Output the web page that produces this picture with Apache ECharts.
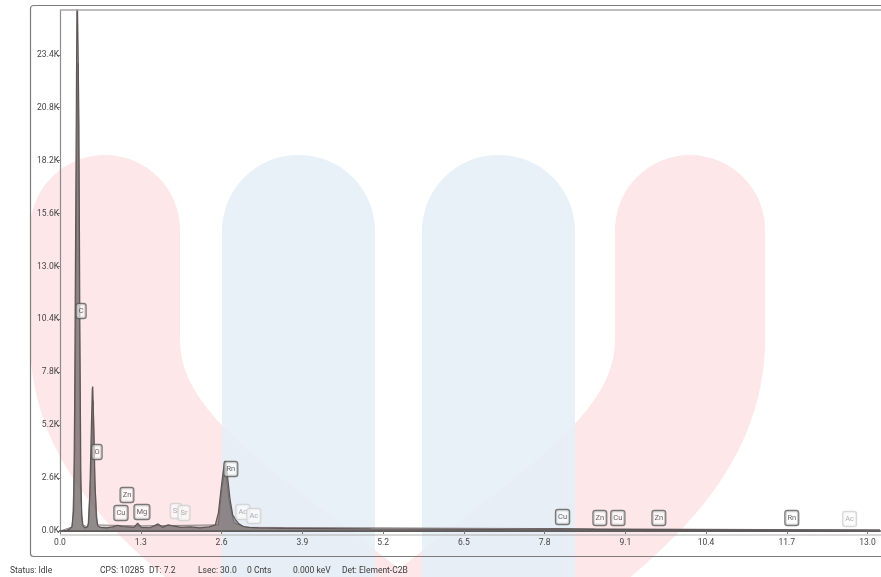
<!DOCTYPE html>
<html>
<head>
<meta charset="utf-8">
<title>EDS Spectrum</title>
<script src="https://cdn.jsdelivr.net/npm/echarts@6/dist/echarts.min.js"></script>
<style>
  html, body { margin: 0; padding: 0; background: #ffffff; }
  #chart { width: 881px; height: 577px; }
</style>
</head>
<body>
<div id="chart"></div>
<script>
// Energy axis (keV) and counts of the main acquisition
const energyMain = [0.0, 0.10, 0.15, 0.19, 0.22, 0.235, 0.25, 0.265, 0.275, 0.29, 0.305, 0.32, 0.335, 0.35, 0.37, 0.40, 0.44, 0.46, 0.48, 0.50, 0.52, 0.527, 0.545, 0.565, 0.585, 0.61, 0.65, 0.75, 0.85, 0.93, 1.00, 1.02, 1.10, 1.19, 1.25, 1.31, 1.45, 1.58, 1.65, 1.74, 1.82, 1.95, 2.10, 2.25, 2.40, 2.50, 2.55, 2.59, 2.63, 2.66, 2.70, 2.74, 2.78, 2.83, 2.88, 2.95, 3.05, 3.20, 3.60, 4.20, 5.00, 6.00, 7.00, 8.04, 8.60, 9.50, 11.0, 13.2];
const countsMain = [0, 20, 80, 200, 1000, 6000, 14000, 22000, 27000, 24000, 20000, 10000, 3000, 800, 250, 150, 200, 400, 1800, 4500, 7000, 7100, 5000, 2200, 700, 250, 180, 150, 200, 280, 220, 300, 200, 180, 380, 180, 160, 350, 180, 300, 250, 180, 200, 150, 200, 300, 900, 2000, 3000, 3450, 2600, 1500, 800, 550, 350, 220, 180, 150, 130, 120, 100, 90, 80, 100, 80, 70, 60, 50];

// Second acquisition overlaid on the first
const energyOverlay = [0.0, 0.20, 0.24, 0.27, 0.29, 0.305, 0.33, 0.36, 0.45, 0.50, 0.535, 0.56, 0.60, 1.25, 2.55, 2.60, 2.66, 2.72, 2.80, 3.00, 13.2];
const countsOverlay = [0, 200, 4000, 18000, 23000, 15000, 2000, 300, 200, 3000, 6400, 2500, 300, 250, 300, 2000, 3100, 1500, 400, 180, 50];

// Element line markers
const elementNames  = ['C', 'O', 'Zn', 'Cu', 'Mg', 'Si', 'Sr', 'Rn', 'Ac', 'Ac', 'Cu', 'Zn', 'Cu', 'Zn', 'Rn', 'Ac'];
const elementKeV    = [0.34, 0.595, 1.078, 0.981, 1.319, 1.866, 1.995, 2.75, 2.944, 3.12, 8.09, 8.69, 8.98, 9.64, 11.78, 12.71];
const elementCounts = [10810, 3880, 1770, 885, 930, 980, 885, 3050, 930, 740, 690, 640, 640, 640, 640, 590];
const elementFaded  = [false, false, false, false, false, true, true, false, true, true, false, false, false, false, false, true];

// Axis ticks
const xTickStep = 1.3;
const yTickStep = 2600;
const xAxisMax = 13.2;
const yAxisMax = 25600;

// Acquisition status line
const statusTexts = ['Status: Idle', 'CPS: 10285', 'DT: 7.2', 'Lsec: 30.0', '0 Cnts', '0.000 keV', 'Det: Element-C2B'];
const statusX = [10, 100, 149, 198, 247, 293, 342];

const zip = (xs, ys) => xs.map((x, i) => [x, ys[i]]);

const uiFont = 'Roboto, "Noto Sans", sans-serif';

const chart = echarts.init(document.getElementById('chart'), null, { renderer: 'canvas' });

const labelData = elementNames.map((n, i) => ({
  name: n,
  value: [elementKeV[i], elementCounts[i]],
  label: elementFaded[i]
    ? { color: '#9a9a9a', borderColor: '#cfcfcf' }
    : { color: '#3c3c3c', borderColor: '#5a5a5a' }
}));

const pink = '#fde7e8';
const blue = 'rgba(228,239,247,0.85)';

const graphics = [
  // faint logo behind the plot: two pink strokes and two blue pillars
  { type: 'line', z: -20, silent: true,
    shape: { x1: 105, y1: 230, x2: 105, y2: 342 },
    style: { stroke: pink, lineWidth: 150, lineCap: 'round' } },
  { type: 'bezierCurve', z: -20, silent: true,
    shape: { x1: 105, y1: 340, cpx1: 105, cpy1: 470, cpx2: 250, cpy2: 540, x2: 380, y2: 650 },
    style: { fill: null, stroke: pink, lineWidth: 150, lineCap: 'butt' } },
  { type: 'line', z: -20, silent: true,
    shape: { x1: 690, y1: 230, x2: 690, y2: 342 },
    style: { stroke: pink, lineWidth: 150, lineCap: 'round' } },
  { type: 'bezierCurve', z: -20, silent: true,
    shape: { x1: 690, y1: 340, cpx1: 690, cpy1: 470, cpx2: 545, cpy2: 540, x2: 420, y2: 650 },
    style: { fill: null, stroke: pink, lineWidth: 150, lineCap: 'butt' } },
  { type: 'rect', z: -15, silent: true,
    shape: { x: 222, y: 155, width: 153, height: 500, r: [76, 76, 0, 0] },
    style: { fill: blue } },
  { type: 'rect', z: -15, silent: true,
    shape: { x: 422, y: 155, width: 153, height: 500, r: [76, 76, 0, 0] },
    style: { fill: blue } },
  // window frame
  { type: 'rect', z: 50, silent: true,
    shape: { x: 30.5, y: 5.5, width: 900, height: 551, r: 3 },
    style: { fill: null, stroke: '#7c7c7c', lineWidth: 1.2 } },
  { type: 'line', z: 50, silent: true,
    shape: { x1: 60, y1: 10, x2: 881, y2: 10 },
    style: { stroke: '#a8a8a8', lineWidth: 1.6 } },
  { type: 'line', z: 50, silent: true,
    shape: { x1: 60, y1: 535, x2: 881, y2: 535 },
    style: { stroke: '#b0b0b0', lineWidth: 1 } }
];

statusTexts.forEach((t, i) => {
  graphics.push({
    type: 'text', z: 50, silent: true,
    style: { text: t, x: statusX[i], y: 571, verticalAlign: 'middle',
             fill: '#3a3a3a', font: '8.5px ' + uiFont }
  });
});

chart.setOption({
  animation: false,
  backgroundColor: '#ffffff',
  grid: { left: 60, top: 10, right: 1, bottom: 46, show: false },
  xAxis: {
    type: 'value', min: 0, max: xAxisMax, interval: xTickStep,
    axisLine: { show: true, lineStyle: { color: '#5e5e5e', width: 2 } },
    axisTick: { show: true, length: 3, lineStyle: { color: '#777' } },
    axisLabel: { showMaxLabel: false, margin: 7, color: '#454545', fontSize: 8.5, fontFamily: uiFont,
                 formatter: v => v.toFixed(1) },
    splitLine: { show: false }
  },
  yAxis: {
    type: 'value', min: 0, max: yAxisMax, interval: yTickStep,
    axisLine: { show: true, lineStyle: { color: '#8c8c8c', width: 1.2 } },
    axisTick: { show: true, length: 3, lineStyle: { color: '#777' } },
    axisLabel: { showMaxLabel: false, margin: 1, color: '#454545', fontSize: 8.5, fontFamily: uiFont,
                 formatter: v => (v / 1000).toFixed(1) + 'K' },
    splitLine: { show: false }
  },
  graphic: graphics,
  series: [
    {
      type: 'line', name: 'Overlay', z: 3,
      data: zip(energyOverlay, countsOverlay),
      symbol: 'none', clip: true,
      lineStyle: { color: '#8a8282', width: 1 },
      areaStyle: { color: 'rgba(140,130,130,0.55)' }
    },
    {
      type: 'line', name: 'Spectrum', z: 4,
      data: zip(energyMain, countsMain),
      symbol: 'none', clip: true,
      lineStyle: { color: '#5e5656', width: 1.2 },
      areaStyle: { color: 'rgba(100,92,92,0.85)' }
    },
    {
      type: 'scatter', name: 'Elements', z: 6,
      data: labelData,
      symbolSize: 1,
      itemStyle: { color: 'rgba(0,0,0,0)' },
      label: {
        show: true, position: 'inside', formatter: p => p.name,
        fontSize: 7.5, fontFamily: uiFont, lineHeight: 10,
        backgroundColor: 'rgba(255,255,255,0.75)',
        borderWidth: 1.2, borderRadius: 2, padding: [2, 2]
      }
    }
  ]
});
</script>
</body>
</html>
